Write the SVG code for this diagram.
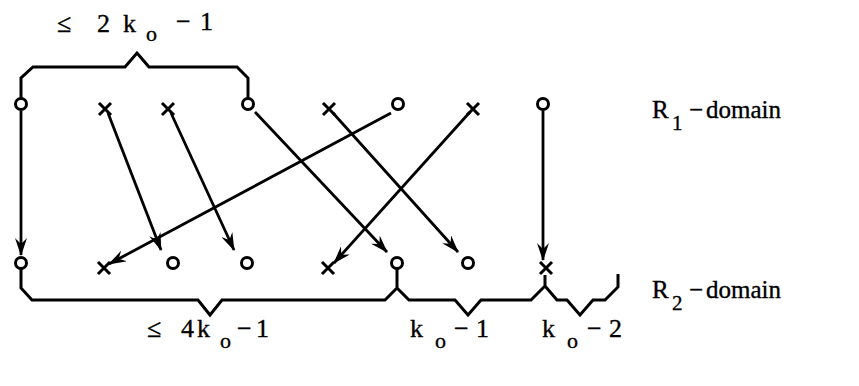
<svg xmlns="http://www.w3.org/2000/svg" width="859" height="386" viewBox="0 0 859 386">
<defs>
<style>
.n{fill:none;stroke:#000;stroke-width:3}
.c{fill:none;stroke:#000;stroke-width:2.8}
.b{fill:none;stroke:#000;stroke-width:3;stroke-linejoin:miter}
</style>
<marker id="ah" viewBox="0 0 18 12" refX="17" refY="6" markerWidth="18" markerHeight="12" markerUnits="userSpaceOnUse" orient="auto">
<path d="M0,0 L18,6 L0,12 L6,6 Z" fill="#000"/>
</marker>
<circle id="o" r="5.5" class="n"/>
<path id="x" d="M-6,-6 L6,6 M6,-6 L-6,6" class="n"/>
</defs>
<rect width="859" height="386" fill="#fff"/>

<g id="braces">
<path class="b" d="M21,98 L21,78 L33,67 L125,67 L137,53 L149,67 L237,67 L248,78 L248,98"/>
<path class="b" d="M21,269 L21,288 L32,300 L198,300 L210,315 L222,300 L385,300 L397,288 L397,269 M397,288 L409,300 L455,300 L468,315 L481,300 L531,300 L545,286 L545,275 M545,286 L557,300 L567,300 L580,315 L593,300 L605,300 L618,287 L618,274"/>
</g>

<g id="top-row">
<g id="t1"><use href="#o" x="21" y="104"/></g>
<g id="t2"><use href="#x" x="105" y="109"/></g>
<g id="t3"><use href="#x" x="168" y="109"/></g>
<g id="t4"><use href="#o" x="248" y="104"/></g>
<g id="t5"><use href="#x" x="329" y="109"/></g>
<g id="t6"><use href="#o" x="398" y="104"/></g>
<g id="t7"><use href="#x" x="473" y="109"/></g>
<g id="t8"><use href="#o" x="543" y="104"/></g>
</g>

<g id="bottom-row">
<g id="b1"><use href="#o" x="21" y="263"/></g>
<g id="b2"><use href="#x" x="104" y="268"/></g>
<g id="b3"><use href="#o" x="173" y="263"/></g>
<g id="b4"><use href="#o" x="247" y="263"/></g>
<g id="b5"><use href="#x" x="328" y="268"/></g>
<g id="b6"><use href="#o" x="397" y="263"/></g>
<g id="b7"><use href="#o" x="468" y="263"/></g>
<g id="b8"><use href="#x" x="546" y="268"/></g>
</g>

<g id="connectors" marker-end="url(#ah)">
<line class="c" x1="21" y1="111" x2="21" y2="255"/>
<line class="c" x1="108" y1="113" x2="161" y2="250"/>
<line class="c" x1="171" y1="113" x2="234" y2="250"/>
<line class="c" x1="255" y1="112" x2="387" y2="252"/>
<line class="c" x1="333" y1="113" x2="458" y2="252"/>
<line class="c" x1="391" y1="113" x2="109" y2="264"/>
<line class="c" x1="470" y1="112" x2="334" y2="263"/>
<line class="c" x1="543" y1="111" x2="543" y2="260"/>
</g>

<g id="labels" font-family="Liberation Serif, Times New Roman, serif" fill="#000" stroke="#000" stroke-width="0.35">
<text font-size="26" y="32"><tspan x="57">≤</tspan><tspan x="97">2</tspan><tspan x="123">k</tspan></text>
<text font-size="22" x="146" y="41">o</text>
<text font-size="26" y="30"><tspan x="176">−</tspan><tspan x="200">1</tspan></text>

<text font-size="25" x="652" y="118">R</text>
<text font-size="21" x="672" y="130">1</text>
<text font-size="25" y="118"><tspan x="689">−</tspan><tspan x="706">domain</tspan></text>

<text font-size="25" x="652" y="298">R</text>
<text font-size="21" x="672" y="310">2</text>
<text font-size="25" y="298"><tspan x="689">−</tspan><tspan x="706">domain</tspan></text>

<text font-size="26" y="337"><tspan x="147">≤</tspan><tspan x="181">4</tspan><tspan x="197">k</tspan></text>
<text font-size="22" x="220" y="348">o</text>
<text font-size="26" y="337"><tspan x="237">−</tspan><tspan x="256">1</tspan></text>

<text font-size="26" x="410" y="337">k</text>
<text font-size="22" x="435" y="348">o</text>
<text font-size="26" y="337"><tspan x="454">−</tspan><tspan x="476">1</tspan></text>

<text font-size="26" x="542" y="337">k</text>
<text font-size="22" x="567" y="348">o</text>
<text font-size="26" y="337"><tspan x="587">−</tspan><tspan x="609">2</tspan></text>
</g>
</svg>
